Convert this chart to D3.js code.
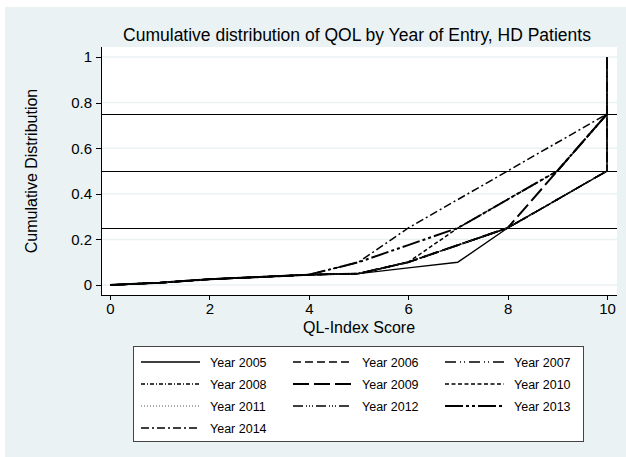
<!DOCTYPE html>
<html>
<head>
<meta charset="utf-8">
<script src="https://cdn.jsdelivr.net/npm/d3@7"></script>
<style>
  body { margin: 0; background: #fff; }
  svg text { font-family: "Liberation Sans", Arial, sans-serif; fill: #000; }
</style>
</head>
<body>
<svg id="chart" width="626" height="457"></svg>
<script>
// ----- DATA -----
// QL-Index scores (last 10 repeated so a series can step straight up at the end)
var scores = [0, 1, 2, 3, 4, 5, 6, 7, 8, 9, 10, 10];

var yr2005 = [0, 0.01, 0.025, 0.035, 0.045, 0.05, 0.075, 0.1, 0.25, 0.375, 0.5, 1];
var yr2006 = [0, 0.01, 0.025, 0.035, 0.045, 0.05, 0.1, 0.175, 0.25, 0.375, 0.5, 1];
var yr2007 = [0, 0.01, 0.025, 0.035, 0.045, 0.05, 0.1, 0.175, 0.25, 0.375, 0.5, 1];
var yr2008 = [0, 0.01, 0.025, 0.035, 0.045, 0.05, 0.1, 0.175, 0.25, 0.375, 0.5, 1];
var yr2009 = [0, 0.01, 0.025, 0.035, 0.045, 0.05, 0.1, 0.175, 0.25, 0.5, 0.75, 0.75];
var yr2010 = [0, 0.01, 0.025, 0.035, 0.045, 0.05, 0.1, 0.25, 0.375, 0.5, 0.75, 0.75];
var yr2011 = [0, 0.01, 0.025, 0.035, 0.045, 0.05, 0.1, 0.175, 0.25, 0.375, 0.5, 1];
var yr2012 = [0, 0.01, 0.025, 0.035, 0.045, 0.05, 0.1, 0.175, 0.25, 0.375, 0.5, 1];
var yr2013 = [0, 0.01, 0.025, 0.035, 0.045, 0.1, 0.175, 0.25, 0.375, 0.5, 0.75, 0.75];
var yr2014 = [0, 0.01, 0.025, 0.035, 0.045, 0.1, 0.25, 0.375, 0.5, 0.625, 0.75, 0.75];

var years = ["Year 2005", "Year 2006", "Year 2007", "Year 2008", "Year 2009",
             "Year 2010", "Year 2011", "Year 2012", "Year 2013", "Year 2014"];
var values = [yr2005, yr2006, yr2007, yr2008, yr2009, yr2010, yr2011, yr2012, yr2013, yr2014];

var refLines = [0.25, 0.5, 0.75];

var xTicks = [0, 2, 4, 6, 8, 10];
var xTickLabels = ["0", "2", "4", "6", "8", "10"];
var yTicks = [0, 0.2, 0.4, 0.6, 0.8, 1];
var yTickLabels = ["0", "0.2", "0.4", "0.6", "0.8", "1"];

// line patterns, one per year
var styles = [
    { dash: null,                  width: 1.4, color: "#000" },
    { dash: "8,4",                 width: 1.5, color: "#000" },
    { dash: "11,4,1,3,1,4",        width: 1.5, color: "#000" },
    { dash: "4,2,1,2",             width: 1.5, color: "#000" },
    { dash: "16,5",                width: 2,   color: "#000" },
    { dash: "4,2.5",               width: 1.5, color: "#000" },
    { dash: "1,2",                 width: 1,   color: "#555" },
    { dash: "10,3,1,2,1,2,1,3",    width: 1.5, color: "#000" },
    { dash: "18,3,3,3,3,3",        width: 2,   color: "#000" },
    { dash: "8,3,2,3",             width: 1.5, color: "#000" }
];

// ----- LAYOUT -----
var svg = d3.select("#chart");
var bg = "#eaf2f3";
var plot = { left: 101, right: 617, top: 47, bottom: 295 };

svg.append("rect")
    .attr("x", 5).attr("y", 7)
    .attr("width", 621).attr("height", 450)
    .attr("fill", bg);

svg.append("rect")
    .attr("x", plot.left).attr("y", plot.top)
    .attr("width", plot.right - plot.left)
    .attr("height", plot.bottom - plot.top)
    .attr("fill", "#fff");

var x = d3.scaleLinear().domain([0, 10]).range([110, 607]);
var y = d3.scaleLinear().domain([0, 1]).range([285, 57]);

// gridlines
svg.append("g").selectAll("line")
    .data(yTicks)
    .join("line")
    .attr("x1", plot.left).attr("x2", plot.right)
    .attr("y1", function(d) { return y(d); })
    .attr("y2", function(d) { return y(d); })
    .attr("stroke", bg)
    .attr("stroke-width", 1.5);

// reference lines at quartiles
svg.append("g").selectAll("line")
    .data(refLines)
    .join("line")
    .attr("x1", plot.left).attr("x2", plot.right)
    .attr("y1", function(d) { return y(d) + 0.5; })
    .attr("y2", function(d) { return y(d) + 0.5; })
    .attr("stroke", "#000")
    .attr("stroke-width", 1)
    .attr("shape-rendering", "crispEdges");

// series
var line = d3.line()
    .x(function(d, i) { return x(scores[i]); })
    .y(function(d) { return y(d); });

svg.append("g").selectAll("path")
    .data(values)
    .join("path")
    .attr("d", line)
    .attr("fill", "none")
    .attr("stroke", function(d, i) { return styles[i].color; })
    .attr("stroke-width", function(d, i) { return styles[i].width; })
    .attr("stroke-dasharray", function(d, i) { return styles[i].dash; })
    .attr("stroke-linejoin", "round");

// ----- AXES -----
var yAxis = d3.axisLeft(y)
    .tickValues(yTicks)
    .tickFormat(function(d, i) { return yTickLabels[i]; })
    .tickSize(5)
    .tickPadding(4);

var gy = svg.append("g")
    .attr("transform", "translate(" + plot.left + ",0)")
    .call(yAxis);
gy.select(".domain").remove();
gy.selectAll("text").style("font-size", "15px");

var xAxis = d3.axisBottom(x)
    .tickValues(xTicks)
    .tickFormat(function(d, i) { return xTickLabels[i]; })
    .tickSize(5)
    .tickPadding(3);

var gx = svg.append("g")
    .attr("transform", "translate(0," + plot.bottom + ")")
    .call(xAxis);
gx.select(".domain").remove();
gx.selectAll("text").style("font-size", "15px");

svg.selectAll(".tick line").attr("stroke", "#000").attr("shape-rendering", "crispEdges");

svg.append("line")
    .attr("x1", plot.left + 0.5).attr("x2", plot.left + 0.5)
    .attr("y1", plot.top).attr("y2", plot.bottom)
    .attr("stroke", "#000")
    .attr("shape-rendering", "crispEdges");
svg.append("line")
    .attr("x1", plot.left).attr("x2", plot.right)
    .attr("y1", plot.bottom + 0.5).attr("y2", plot.bottom + 0.5)
    .attr("stroke", "#000")
    .attr("shape-rendering", "crispEdges");

// titles
svg.append("text")
    .attr("x", 357).attr("y", 41)
    .attr("text-anchor", "middle")
    .style("font-size", "17.5px")
    .text("Cumulative distribution of QOL by Year of Entry, HD Patients");

svg.append("text")
    .attr("x", 359).attr("y", 333)
    .attr("text-anchor", "middle")
    .style("font-size", "16px")
    .text("QL-Index Score");

svg.append("text")
    .attr("transform", "translate(37,171) rotate(-90)")
    .attr("text-anchor", "middle")
    .style("font-size", "16px")
    .text("Cumulative Distribution");

// ----- LEGEND -----
var legend = svg.append("g");
legend.append("rect")
    .attr("x", 133.5).attr("y", 346.5)
    .attr("width", 450).attr("height", 95)
    .attr("fill", "#fff")
    .attr("stroke", "#444")
    .attr("shape-rendering", "crispEdges");

var colX = [141, 293, 445];
var rowY = [362, 384, 406, 428];

var item = legend.selectAll("g.item")
    .data(years)
    .join("g")
    .attr("class", "item")
    .attr("transform", function(d, i) {
        return "translate(" + colX[i % 3] + "," + rowY[Math.floor(i / 3)] + ")";
    });

item.append("line")
    .attr("x1", 0).attr("x2", 59)
    .attr("stroke", function(d, i) { return styles[i].color; })
    .attr("stroke-width", function(d, i) { return styles[i].width; })
    .attr("stroke-dasharray", function(d, i) { return styles[i].dash; });

item.append("text")
    .attr("x", 69).attr("y", 4.5)
    .style("font-size", "12.5px")
    .text(function(d) { return d; });
</script>
</body>
</html>
